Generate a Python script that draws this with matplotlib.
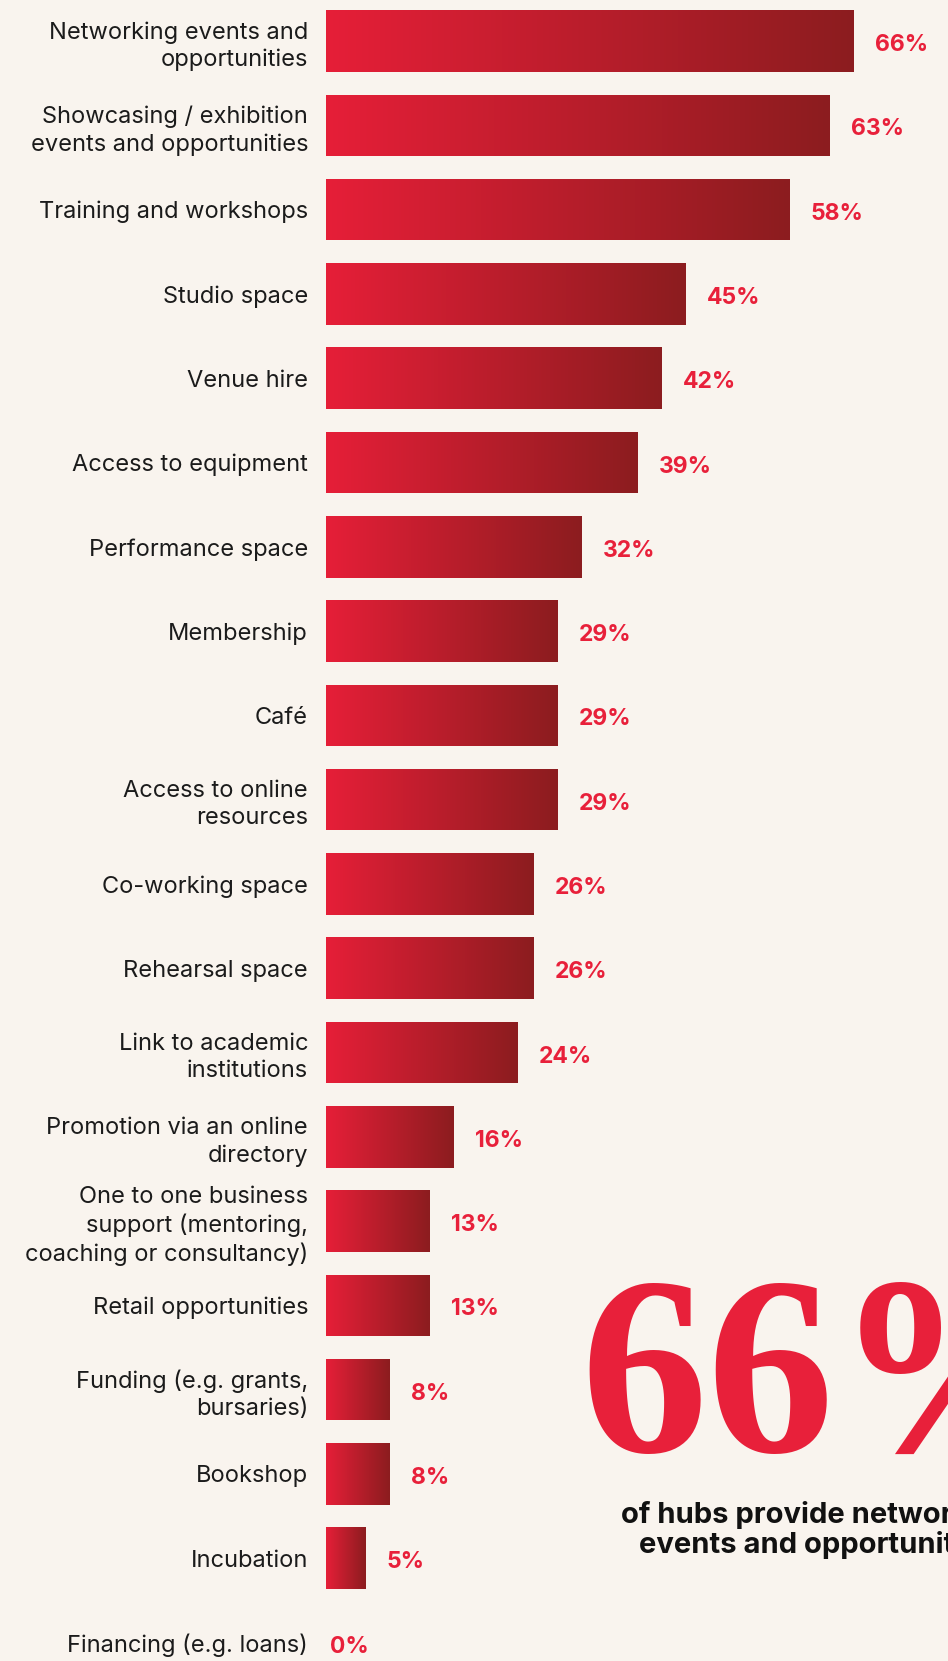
import numpy as np
import matplotlib.pyplot as plt
from matplotlib.colors import LinearSegmentedColormap

# Hub services data
services = [
    "Networking events and\nopportunities",
    "Showcasing / exhibition\nevents and opportunities",
    "Training and workshops",
    "Studio space",
    "Venue hire",
    "Access to equipment",
    "Performance space",
    "Membership",
    "Café",
    "Access to online\nresources",
    "Co-working space",
    "Rehearsal space",
    "Link to academic\ninstitutions",
    "Promotion via an online\ndirectory",
    "One to one business\nsupport (mentoring,\ncoaching or consultancy)",
    "Retail opportunities",
    "Funding (e.g. grants,\nbursaries)",
    "Bookshop",
    "Incubation",
    "Financing (e.g. loans)",
]
percent = [66, 63, 58, 45, 42, 39, 32, 29, 29, 29, 26, 26, 24, 16, 13, 13, 8, 8, 5, 0]

headline_value = "66%"
headline_text = "of hubs provide networking\nevents and opportunities"

bg = "#f9f4ee"
red = "#e8203a"
dark = "#1b1b1b"
grad = LinearSegmentedColormap.from_list("redgrad", ["#e61f38", "#8c1c1f"])

plt.rcParams['font.family'] = ['Inter', 'DejaVu Sans']

fig = plt.figure(figsize=(9.48, 16.61), dpi=100, facecolor=bg)
ax = fig.add_axes([0.344, 0.0, 0.656, 1.0])
ax.set_facecolor(bg)

y = np.arange(len(services))
bars = ax.barh(y, percent, height=0.73, color="none", edgecolor="none")

# left-to-right gradient inside every bar
g = np.linspace(0, 1, 256).reshape(1, -1)
for b in bars:
    x0, y0 = b.get_x(), b.get_y()
    w, h = b.get_width(), b.get_height()
    if w <= 0:
        continue
    im = ax.imshow(g, cmap=grad, aspect="auto", extent=(x0, x0 + w, y0 + h, y0),
                   interpolation="bicubic", zorder=2)
    im.set_clip_path(b)

for yi, v in zip(y, percent):
    dx = 15 if v > 0 else 3
    ax.annotate(f"{v}%", xy=(v, yi), xytext=(dx, -3), textcoords="offset points",
                ha="left", va="center", color=red, fontsize=16.5, fontweight="bold")

ax.set_xlim(0, 77.75)
ax.set_ylim(19.22, -0.487)
ax.set_yticks(y)
ax.set_yticklabels(services, fontsize=17, color=dark, linespacing=1.3)
ax.tick_params(axis="y", length=0, pad=13)
ax.set_xticks([])
for s in ax.spines.values():
    s.set_visible(False)

# headline callout
fig.text(580 / 948, 1 - 1452 / 1661, headline_value, ha="left", va="baseline",
         fontsize=183, fontweight="bold", color=red, family="Liberation Serif")
fig.text(818 / 948, 1 - 1530 / 1661, headline_text, ha="center", va="center",
         fontsize=21, fontweight="bold", color="#111111", linespacing=1.1)

fig.savefig("out.png", dpi=100, facecolor=bg)
